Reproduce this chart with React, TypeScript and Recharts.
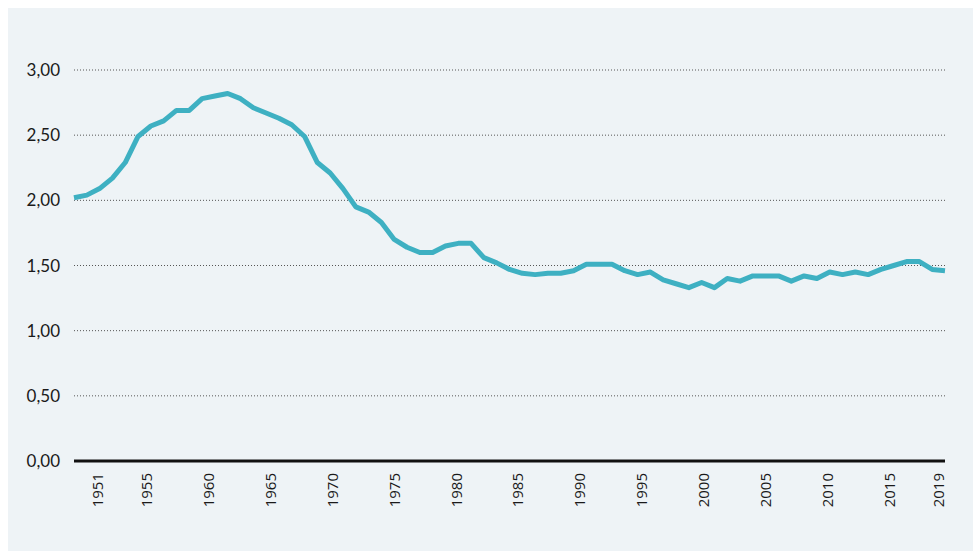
import React from 'react';
import { LineChart, Line, XAxis, YAxis, CartesianGrid, ReferenceLine } from 'recharts';

const years = [
  1951, 1952, 1953, 1954, 1955, 1956, 1957, 1958, 1959, 1960,
  1961, 1962, 1963, 1964, 1965, 1966, 1967, 1968, 1969, 1970,
  1971, 1972, 1973, 1974, 1975, 1976, 1977, 1978, 1979, 1980,
  1981, 1982, 1983, 1984, 1985, 1986, 1987, 1988, 1989, 1990,
  1991, 1992, 1993, 1994, 1995, 1996, 1997, 1998, 1999, 2000,
  2001, 2002, 2003, 2004, 2005, 2006, 2007, 2008, 2009, 2010,
  2011, 2012, 2013, 2014, 2015, 2016, 2017, 2018, 2019,
];

const fertility = [
  2.02, 2.04, 2.09, 2.17, 2.29, 2.49, 2.57, 2.61, 2.69, 2.69,
  2.78, 2.80, 2.82, 2.78, 2.71, 2.67, 2.63, 2.58, 2.49, 2.29,
  2.21, 2.09, 1.95, 1.91, 1.83, 1.70, 1.64, 1.60, 1.60, 1.65,
  1.67, 1.67, 1.56, 1.52, 1.47, 1.44, 1.43, 1.44, 1.44, 1.46,
  1.51, 1.51, 1.51, 1.46, 1.43, 1.45, 1.39, 1.36, 1.33, 1.37,
  1.33, 1.40, 1.38, 1.42, 1.42, 1.42, 1.38, 1.42, 1.40, 1.45,
  1.43, 1.45, 1.43, 1.47, 1.50, 1.53, 1.53, 1.47, 1.46,
];

const yTicks = [0, 0.5, 1, 1.5, 2, 2.5, 3];
const xTickYears = [1951, 1955, 1960, 1965, 1970, 1975, 1980, 1985, 1990, 1995, 2000, 2005, 2010, 2015, 2019];

const data = years.map((year, i) => ({ year, value: fertility[i] }));

const formatValue = (v: number) => v.toFixed(2).replace('.', ',');

function YearTick(props: any) {
  const { x, y, payload } = props;
  return (
    <text
      x={x}
      y={y}
      transform={`rotate(-90 ${x} ${y})`}
      textAnchor="end"
      dy="0.36em"
      fontFamily="'Open Sans', sans-serif"
      fontSize={15}
      fill="#1a1a1a"
    >
      {payload.value}
    </text>
  );
}

export default function App() {
  return (
    <div
      style={{
        position: 'absolute',
        left: 8,
        top: 8,
        width: 965,
        height: 543,
        background: '#eef3f6',
      }}
    >
      <LineChart width={965} height={543} data={data} margin={{ top: 62, right: 28, left: 0, bottom: 0 }}>
        <CartesianGrid
          xAxisId="data"
          vertical={false}
          stroke="#555"
          strokeDasharray="1 2"
          strokeWidth={1}
        />
        <XAxis
          xAxisId="data"
          dataKey="year"
          type="number"
          domain={[1951, 2019]}
          orientation="top"
          height={0}
          hide
        />
        <XAxis
          xAxisId="labels"
          dataKey="year"
          type="number"
          domain={[1949.1, 2019.51]}
          ticks={xTickYears}
          tick={<YearTick />}
          axisLine={false}
          tickLine={false}
          tickSize={0}
          tickMargin={12}
          height={90}
          interval={0}
          allowDataOverflow
        />
        <YAxis
          domain={[0, 3]}
          ticks={yTicks}
          tickFormatter={formatValue}
          axisLine={false}
          tickLine={false}
          tickSize={0}
          tickMargin={14}
          width={66}
          tick={{ fontFamily: 'Lato, sans-serif', fontSize: 17, fill: '#1a1a1a' }}
        />
        <ReferenceLine xAxisId="data" y={0} stroke="#111" strokeWidth={3} />
        <Line
          xAxisId="data"
          dataKey="value"
          stroke="#3eb0c2"
          strokeWidth={5}
          dot={false}
          activeDot={false}
          strokeLinejoin="round"
          isAnimationActive={false}
        />
      </LineChart>
    </div>
  );
}
